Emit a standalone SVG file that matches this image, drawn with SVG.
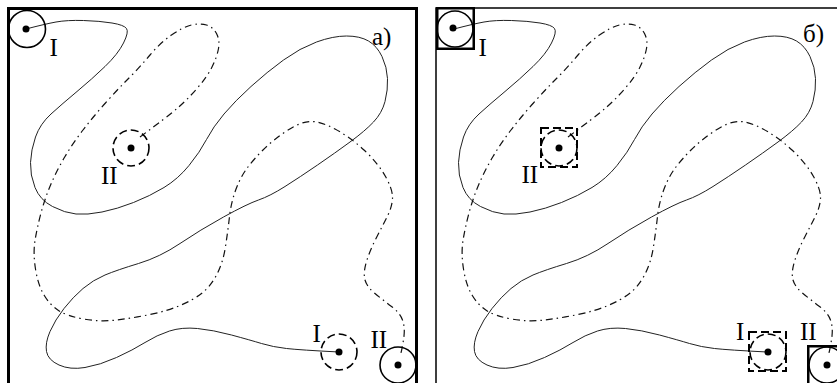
<svg xmlns="http://www.w3.org/2000/svg" xmlns:xlink="http://www.w3.org/1999/xlink" width="837" height="383" viewBox="0 0 837 383">
<style>
.solid{fill:none;stroke:#222;stroke-width:1}
.dashdot{fill:none;stroke:#111;stroke-width:1.2;stroke-dasharray:7 4 1.5 4}
.circ{fill:none;stroke:#000;stroke-width:1.6}
.dcirc{fill:none;stroke:#000;stroke-width:1.6;stroke-dasharray:8 4}
.sq{fill:none;stroke:#000;stroke-width:2.5}
.dsq{fill:none;stroke:#000;stroke-width:2;stroke-dasharray:8 4}
.dot{fill:#000}
.lbl{font-family:"Liberation Serif","Times New Roman",serif;font-size:25px;fill:#000}
</style>
<defs>
<path id="pathSolid" d="M26,29 Q45,24 56,22 Q67,20 83.5,20.5 Q100,21 112,23 Q124,25 126.5,28.5 Q129,32 123.5,43 Q118,54 105,66.5 Q92,79 77,91.5 Q62,104 51,114 Q40,124 35.5,137 Q31,150 30.5,162.5 Q30,175 35,187.5 Q40,200 52.5,206.5 Q65,213 76,214 Q87,215 102,212 Q117,209 133.5,202.5 Q150,196 164,187.5 Q178,179 189,165.5 Q200,152 206.5,139.5 Q213,127 224,114 Q235,101 251,86.5 Q267,72 283.5,60 Q300,48 316.5,42 Q333,36 346.5,36 Q360,36 368.5,41 Q377,46 382,56.5 Q387,67 387.5,78.5 Q388,90 385,101.5 Q382,113 373.5,122 Q365,131 350,142 Q335,153 317.5,165 Q300,177 285,186.5 Q270,196 258.5,200 Q247,204 223.5,217 Q200,230 180,243.5 Q160,257 138.5,263.5 Q117,270 105,275 Q93,280 83,288.5 Q73,297 64,308.5 Q55,320 50,331.5 Q45,343 46.5,351.5 Q48,360 59,365 Q70,370 85,367.5 Q100,365 116.5,357.5 Q133,350 145,342.5 Q157,335 169.5,331 Q182,327 197.5,328.5 Q213,330 231.5,335 Q250,340 261.5,343.5 Q273,347 286.5,348.5 Q300,350 339,352"/>
<path id="pathDash" d="M140,137 Q167,117 177,108.5 Q187,100 197,88.5 Q207,77 212,67 Q217,57 218.5,48.5 Q220,40 216.5,33.5 Q213,27 206.5,25 Q200,23 191.5,25 Q183,27 171.5,35 Q160,43 150,55 Q140,67 128.5,78.5 Q117,90 105,103.5 Q93,117 83,130 Q73,143 65,156.5 Q57,170 51,184 Q45,198 41,213 Q37,228 35,240.5 Q33,253 35.5,269 Q38,285 44,295 Q50,305 58.5,310.5 Q67,316 83.5,319 Q100,322 116.5,320 Q133,318 150,314.5 Q167,311 180,305.5 Q193,300 201.5,293.5 Q210,287 216.5,275 Q223,263 225.5,246.5 Q228,230 229.5,216.5 Q231,203 235.5,190.5 Q240,178 246.5,169 Q253,160 263,150 Q273,140 286.5,131 Q300,122 310,121.5 Q320,121 335,129 Q350,137 364,150 Q378,163 385.5,176.5 Q393,190 392.5,198.5 Q392,207 387.5,216 Q383,225 376.5,237.5 Q370,250 366.5,261.5 Q363,273 365,280 Q367,287 375,293.5 Q383,300 391.5,306.5 Q400,313 402.5,320 Q405,327 404,336 Q403,345 400,357"/>
</defs>

<g id="frame-a">
<rect x="8.5" y="8.5" width="408" height="420" fill="none" stroke="#000" stroke-width="3"/>
</g>
<g id="frame-b">
<rect x="436" y="8" width="440" height="420" fill="none" stroke="#000" stroke-width="1.5"/>
</g>

<g id="connectors">
<use xlink:href="#pathSolid" class="solid"/>
<use xlink:href="#pathDash" class="dashdot"/>
<use xlink:href="#pathSolid" class="solid" transform="translate(428,0)"/>
<use xlink:href="#pathDash" class="dashdot" transform="translate(428,0)"/>
</g>

<g id="a-I-start">
<circle cx="27" cy="29" r="18.5" class="circ"/>
<circle cx="26" cy="29" r="3.5" class="dot"/>
<text x="49.5" y="56" class="lbl">I</text>
</g>
<g id="a-II-start">
<circle cx="131" cy="148" r="18" class="dcirc"/>
<circle cx="131" cy="148" r="3.5" class="dot"/>
<text x="101" y="184" class="lbl">II</text>
</g>
<g id="a-I-end">
<circle cx="339" cy="352" r="18" class="dcirc"/>
<circle cx="339" cy="352" r="3.5" class="dot"/>
<text x="312.5" y="342" class="lbl">I</text>
</g>
<g id="a-II-end">
<circle cx="398" cy="365" r="18" class="circ"/>
<circle cx="398" cy="365" r="3.5" class="dot"/>
<text x="370.5" y="348" class="lbl">II</text>
</g>
<g id="a-label">
<text x="372" y="45" class="lbl">a)</text>
</g>

<g id="b-I-start">
<rect x="437.25" y="8.25" width="36.5" height="40.5" class="sq"/>
<circle cx="455" cy="29" r="18" class="circ"/>
<circle cx="453" cy="28" r="3.5" class="dot"/>
<text x="478.5" y="56" class="lbl">I</text>
</g>
<g id="b-II-start">
<rect x="541" y="128" width="36" height="39" class="dsq"/>
<circle cx="559" cy="148" r="18" class="dcirc"/>
<circle cx="559" cy="148" r="3.5" class="dot"/>
<text x="521.5" y="183" class="lbl">II</text>
</g>
<g id="b-I-end">
<rect x="749" y="332" width="37" height="39" class="dsq"/>
<circle cx="768" cy="352" r="18" class="dcirc"/>
<circle cx="768" cy="352" r="3.5" class="dot"/>
<text x="736" y="340" class="lbl">I</text>
</g>
<g id="b-II-end">
<rect x="808.25" y="346.25" width="40" height="40" class="sq"/>
<circle cx="827" cy="365" r="18" class="circ"/>
<circle cx="827" cy="365" r="3.5" class="dot"/>
<text x="800" y="340" class="lbl">II</text>
</g>
<g id="b-label">
<text x="803" y="42" class="lbl">б)</text>
</g>
</svg>
